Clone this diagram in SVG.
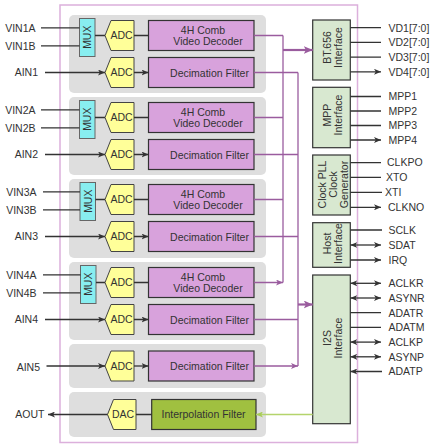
<svg xmlns="http://www.w3.org/2000/svg" width="432" height="447" viewBox="0 0 432 447">
<style>
text{font-family:"Liberation Sans",Arial,sans-serif;font-size:10.5px;fill:#333}
.m{text-anchor:middle}
.e{text-anchor:end}
.grp{fill:#dedede}
.mux{fill:#88eef0;stroke:#666;stroke-width:1}
.adc{fill:#ffff99;stroke:#444;stroke-width:1}
.pur{fill:#d8a2dc;stroke:#333;stroke-width:1.2}
.grn{fill:#a0c040;stroke:#333;stroke-width:1.2}
.ifc{fill:#d8e8d0;stroke:#333;stroke-width:1.2}
.dk{stroke:#333;stroke-width:1.3;fill:none}
.pl{stroke:#9a5c9e;stroke-width:1.3;fill:none}
.plb{stroke:#9a5c9e;stroke-width:2.2;fill:none}
.gl{stroke:#b4d46c;stroke-width:1.3;fill:none}
</style>
<defs>
<marker id="ad" viewBox="0 0 7 6" refX="7" refY="3" markerWidth="7" markerHeight="6" markerUnits="userSpaceOnUse" orient="auto-start-reverse"><path d="M0,0 L7,3 L0,6 L1.8,3 z" fill="#333"/></marker>
<marker id="ap" viewBox="0 0 7 6" refX="7" refY="3" markerWidth="7" markerHeight="6" markerUnits="userSpaceOnUse" orient="auto"><path d="M0,0 L7,3 L0,6 L1.8,3 z" fill="#9a5c9e"/></marker>
<marker id="apb" viewBox="0 0 9 8" refX="9" refY="4" markerWidth="9" markerHeight="8" markerUnits="userSpaceOnUse" orient="auto"><path d="M0,0 L9,4 L0,8 L2.2,4 z" fill="#9a5c9e"/></marker>
<marker id="ag" viewBox="0 0 7 6" refX="7" refY="3" markerWidth="7" markerHeight="6" markerUnits="userSpaceOnUse" orient="auto"><path d="M0,0 L7,3 L0,6 L1.8,3 z" fill="#a8cc58"/></marker>
</defs>

<rect id="chip" x="60" y="5" width="297.5" height="437.5" fill="#fff" stroke="#dcb0dc" stroke-width="1.5"/>

<g id="bg">
<rect class="grp" x="69" y="15" width="197" height="78" rx="5"/>
<rect class="grp" x="69" y="97" width="197" height="78" rx="5"/>
<rect class="grp" x="69" y="179" width="197" height="79" rx="5"/>
<rect class="grp" x="69" y="262" width="197" height="78" rx="5"/>
<rect class="grp" x="69" y="344" width="197" height="44" rx="5"/>
<rect class="grp" x="69" y="392" width="197" height="45" rx="5"/>
</g>

<g id="ch1">
<rect class="mux" x="79.5" y="18.5" width="15.5" height="38"/>
<text class="m" transform="translate(91.3,37.2) rotate(-90)">MUX</text>
<polygon class="adc" points="105,35.5 111,20.5 134,20.5 134,50.5 111,50.5"/>
<text class="m" x="121.5" y="39.3">ADC</text>
<rect class="pur" x="148.5" y="20.5" width="105.5" height="30"/>
<text class="m" x="203" y="33.8">4H Comb</text>
<text class="m" x="208" y="44.8">Video Decoder</text>
<polygon class="adc" points="105,72.5 111,57.5 134,57.5 134,87.5 111,87.5"/>
<text class="m" x="121.5" y="76.3">ADC</text>
<rect class="pur" x="148.5" y="57.5" width="105.5" height="30"/>
<text class="m" x="209.5" y="76.5">Decimation Filter</text>
</g>

<g id="ch2">
<rect class="mux" x="79.5" y="100.5" width="15.5" height="38"/>
<text class="m" transform="translate(91.3,119.2) rotate(-90)">MUX</text>
<polygon class="adc" points="105,117.5 111,102.5 134,102.5 134,132.5 111,132.5"/>
<text class="m" x="121.5" y="121.3">ADC</text>
<rect class="pur" x="148.5" y="102.5" width="105.5" height="30"/>
<text class="m" x="203" y="115.8">4H Comb</text>
<text class="m" x="208" y="126.8">Video Decoder</text>
<polygon class="adc" points="105,154.5 111,139.5 134,139.5 134,169.5 111,169.5"/>
<text class="m" x="121.5" y="158.3">ADC</text>
<rect class="pur" x="148.5" y="139.5" width="105.5" height="30"/>
<text class="m" x="209.5" y="158.5">Decimation Filter</text>
</g>

<g id="ch3">
<rect class="mux" x="80" y="182.5" width="15.5" height="38"/>
<text class="m" transform="translate(91.8,201.2) rotate(-90)">MUX</text>
<polygon class="adc" points="105,199.5 111,184.5 134,184.5 134,214.5 111,214.5"/>
<text class="m" x="121.5" y="203.3">ADC</text>
<rect class="pur" x="148.5" y="184.5" width="105.5" height="30"/>
<text class="m" x="203" y="197.8">4H Comb</text>
<text class="m" x="208" y="208.8">Video Decoder</text>
<polygon class="adc" points="105,236.5 111,221.5 134,221.5 134,251.5 111,251.5"/>
<text class="m" x="121.5" y="240.3">ADC</text>
<rect class="pur" x="148.5" y="221.5" width="105.5" height="30"/>
<text class="m" x="209.5" y="240.5">Decimation Filter</text>
</g>

<g id="ch4">
<rect class="mux" x="80.5" y="265.5" width="15.5" height="38"/>
<text class="m" transform="translate(92.3,284.2) rotate(-90)">MUX</text>
<polygon class="adc" points="105,282.5 111,267.5 134,267.5 134,297.5 111,297.5"/>
<text class="m" x="121.5" y="286.3">ADC</text>
<rect class="pur" x="148.5" y="267.5" width="105.5" height="30"/>
<text class="m" x="203" y="280.8">4H Comb</text>
<text class="m" x="208" y="291.8">Video Decoder</text>
<polygon class="adc" points="105,319.5 111,304.5 134,304.5 134,334.5 111,334.5"/>
<text class="m" x="121.5" y="323.3">ADC</text>
<rect class="pur" x="148.5" y="304.5" width="105.5" height="30"/>
<text class="m" x="209.5" y="323.5">Decimation Filter</text>
</g>

<g id="ch5">
<polygon class="adc" points="105,366 111,351 134,351 134,381 111,381"/>
<text class="m" x="121.5" y="369.8">ADC</text>
<rect class="pur" x="148.5" y="351" width="105.5" height="30"/>
<text class="m" x="209.5" y="370">Decimation Filter</text>
</g>

<g id="out">
<polygon class="adc" points="107.5,414.5 113.5,399.5 136,399.5 136,429.5 113.5,429.5"/>
<text class="m" x="123" y="418.3">DAC</text>
<rect class="grn" x="151.7" y="399.5" width="104.3" height="30"/>
<text class="m" x="203.5" y="418.3">Interpolation Filter</text>
</g>

<g id="bt656">
<rect class="ifc" x="312.7" y="20" width="37.6" height="60"/>
<text class="m" transform="translate(331,47.5) rotate(-90)">BT.656</text>
<text class="m" transform="translate(342,47.5) rotate(-90)">Interface</text>
</g>
<g id="mpp">
<rect class="ifc" x="312.7" y="87.3" width="37.6" height="60.4"/>
<text class="m" transform="translate(331,115) rotate(-90)">MPP</text>
<text class="m" transform="translate(342,115) rotate(-90)">Interface</text>
</g>
<g id="clk">
<rect class="ifc" x="312.7" y="155" width="37.6" height="60"/>
<text class="m" transform="translate(325.5,184.5) rotate(-90)">Clock PLL</text>
<text class="m" transform="translate(336.5,184.5) rotate(-90)">Clock</text>
<text class="m" transform="translate(347.8,184.5) rotate(-90)">Generator</text>
</g>
<g id="host">
<rect class="ifc" x="312.7" y="222.7" width="37.6" height="44.6"/>
<text class="m" transform="translate(331,243.5) rotate(-90)">Host</text>
<text class="m" transform="translate(342,243.5) rotate(-90)">Interface</text>
</g>
<g id="i2s">
<rect class="ifc" x="312.7" y="275" width="37.6" height="148.7"/>
<text class="m" transform="translate(331.3,338) rotate(-90)">I2S</text>
<text class="m" transform="translate(342,338) rotate(-90)">Interface</text>
</g>

<g id="labels">
<text class="e" x="35.5" y="31.6">VIN1A</text>
<text class="e" x="35.5" y="49.6">VIN1B</text>
<text class="e" x="38" y="76.3">AIN1</text>
<text class="e" x="35.5" y="113.6">VIN2A</text>
<text class="e" x="35.5" y="131.6">VIN2B</text>
<text class="e" x="38" y="158.3">AIN2</text>
<text class="e" x="36.5" y="195.6">VIN3A</text>
<text class="e" x="36.5" y="213.6">VIN3B</text>
<text class="e" x="38" y="240.3">AIN3</text>
<text class="e" x="36.5" y="278.6">VIN4A</text>
<text class="e" x="36.5" y="296.6">VIN4B</text>
<text class="e" x="38" y="323.3">AIN4</text>
<text class="e" x="40" y="370.8">AIN5</text>
<text class="e" x="44.5" y="418.3">AOUT</text>
<text x="388.5" y="31.5">VD1[7:0]</text>
<text x="388.5" y="46.2">VD2[7:0]</text>
<text x="388.5" y="60.9">VD3[7:0]</text>
<text x="388.5" y="75.6">VD4[7:0]</text>
<text x="388.5" y="100.3">MPP1</text>
<text x="388.5" y="114.8">MPP2</text>
<text x="388.5" y="129.3">MPP3</text>
<text x="388.5" y="143.8">MPP4</text>
<text x="387" y="166.4">CLKPO</text>
<text x="386" y="181.2">XTO</text>
<text x="385" y="196.1">XTI</text>
<text x="388" y="211.1">CLKNO</text>
<text x="388.5" y="233.8">SCLK</text>
<text x="388.5" y="248.8">SDAT</text>
<text x="388.5" y="263.8">IRQ</text>
<text x="388.5" y="287.1">ACLKR</text>
<text x="388.5" y="301.8">ASYNR</text>
<text x="388.5" y="316.5">ADATR</text>
<text x="388.5" y="331.2">ADATM</text>
<text x="388.5" y="345.9">ACLKP</text>
<text x="388.5" y="360.6">ASYNP</text>
<text x="388.5" y="375.3">ADATP</text>
</g>

<g id="connectors">
<g class="dk" marker-end="url(#ad)">
<path d="M41,27.8H79.5M41,45.8H79.5M45,72.5H105"/>
<path d="M41,109.8H79.5M41,127.8H79.5M45,154.5H105"/>
<path d="M43,191.8H80M43,209.8H80M45,236.5H105"/>
<path d="M43,274.8H80.5M43,292.8H80.5M45,319.5H105"/>
<path d="M46.5,366H105"/>
<path d="M95,35.5H105M134,35.5H148.5M134,72.5H148.5"/>
<path d="M95,117.5H105M134,117.5H148.5M134,154.5H148.5"/>
<path d="M95.5,199.5H105M134,199.5H148.5M134,236.5H148.5"/>
<path d="M96,282.5H105M134,282.5H148.5M134,319.5H148.5"/>
<path d="M134,366H148.5"/>
<path d="M151.7,414.5H136M107.5,414.5H48"/>
</g>
<path class="pl" d="M283,35.5V282.5"/>
<g class="pl" marker-end="url(#ap)">
<path d="M254,35.5H283M254,117.5H283M254,199.5H283M254,282.5H283"/>
</g>
<path class="plb" d="M283,50H312.7" marker-end="url(#apb)"/>
<path class="pl" d="M298,72.5V366"/>
<g class="pl" marker-end="url(#ap)">
<path d="M254,72.5H298M254,154.5H298M254,236.5H298M254,319.5H298M254,366H298"/>
</g>
<path class="plb" d="M298,304.5H312.7" marker-end="url(#apb)"/>
<path class="gl" d="M312.7,414.5H256" marker-end="url(#ag)"/>
<g class="dk" marker-end="url(#ad)">
<path d="M350.3,27.7H381M350.3,42.4H381M350.3,57.1H381M350.3,71.8H381"/>
<path d="M350.3,96.5H381M350.3,111H381M350.3,125.5H381M350.3,140H381"/>
<path d="M350.3,162.6H381M350.3,177.4H381M382,192.3H350.3M350.3,207.3H381"/>
<path d="M382,230H350.3M350.3,260H381"/>
<path d="M350.3,312.7H381M350.3,327.4H381M382,371.5H350.3"/>
</g>
<g class="dk" marker-start="url(#ad)" marker-end="url(#ad)">
<path d="M350.3,245H381"/>
<path d="M350.3,283.3H381"/>
<path d="M350.3,298H381"/>
<path d="M350.3,342.1H381"/>
<path d="M350.3,356.8H381"/>
</g>
</g>
</svg>
